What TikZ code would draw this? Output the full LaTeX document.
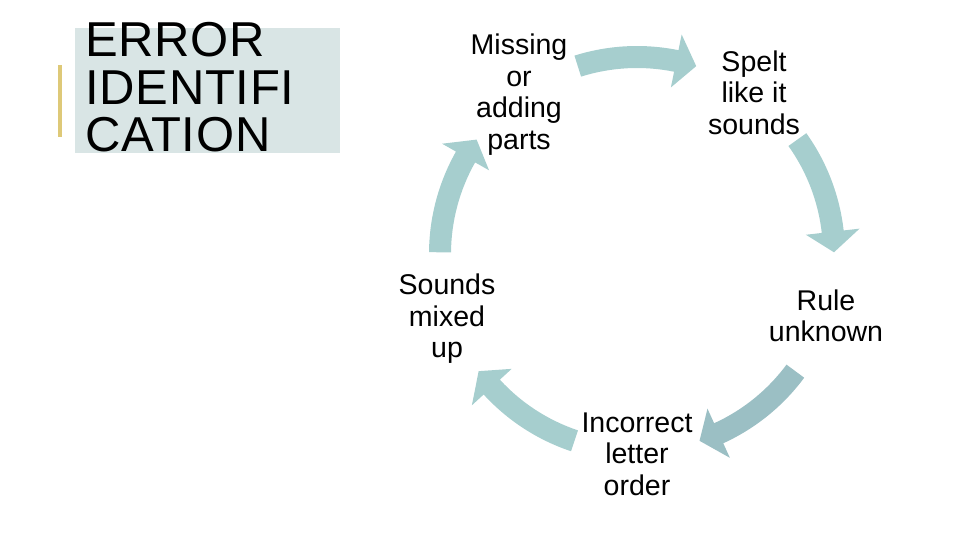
\documentclass[tikz,border=0pt]{standalone}
\usepackage{fontspec}
\setmainfont{Liberation Sans}
\newfontfamily\titlefont[LetterSpace=1.5]{Liberation Sans}
\definecolor{titlefill}{RGB}{217,229,229}
\definecolor{titlebar}{RGB}{222,201,120}
\definecolor{cyclefill}{RGB}{166,206,206}
\definecolor{cycledark}{RGB}{155,191,196}
% curved block arrow round the hub: start angle, tip angle, colour
\newcommand{\cyclearrow}[3]{%
  \fill[#3] ([shift={(hub)}]#1:186) arc[start angle=#1, end angle=#2+6, radius=186]
    -- ([shift={(hub)}]#2+6:170) -- ([shift={(hub)}]#2:197)
    -- ([shift={(hub)}]#2+6:224) -- ([shift={(hub)}]#2+6:208)
    arc[start angle=#2+6, end angle=#1, radius=208] -- cycle;}

\begin{document}
\begin{tikzpicture}[x=0.75pt,y=0.75pt,
  steplabel/.style={inner sep=0pt,align=center,font=\fontsize{21.4}{23.6}\selectfont}]
\useasboundingbox (0,0) rectangle (960,540);
% title panel
\fill[titlefill] (75,387) rectangle (340,512);
\fill[titlebar] (58,403) rectangle (62,475);
\node[anchor=north west,inner sep=0pt,align=left,font=\titlefont\fontsize{36.75}{35.6}\selectfont]
  (title) at (85,517.5) {ERROR\\IDENTIFI\\CATION};
% cycle of arrows
\coordinate (hub) at (637,286);
\cyclearrow{107.5}{72.5}{cyclefill}
\cyclearrow{35.5}{0.5}{cyclefill}
\cyclearrow{-36.5}{-71.5}{cycledark}
\cyclearrow{-108.5}{-143.5}{cyclefill}
\cyclearrow{179.5}{144.5}{cyclefill}
% step labels
\node[steplabel] (missing) at (519,445.5) {Missing\\or\\adding\\parts};
\node[steplabel] (spelt) at (754,447.5) {Spelt\\like it\\sounds};
\node[steplabel] (rule) at (826,224) {Rule\\unknown};
\node[steplabel] (order) at (637,86) {Incorrect\\letter\\order};
\node[steplabel] (mixed) at (447,221) {Sounds\\mixed\\up};
\end{tikzpicture}
\end{document}
